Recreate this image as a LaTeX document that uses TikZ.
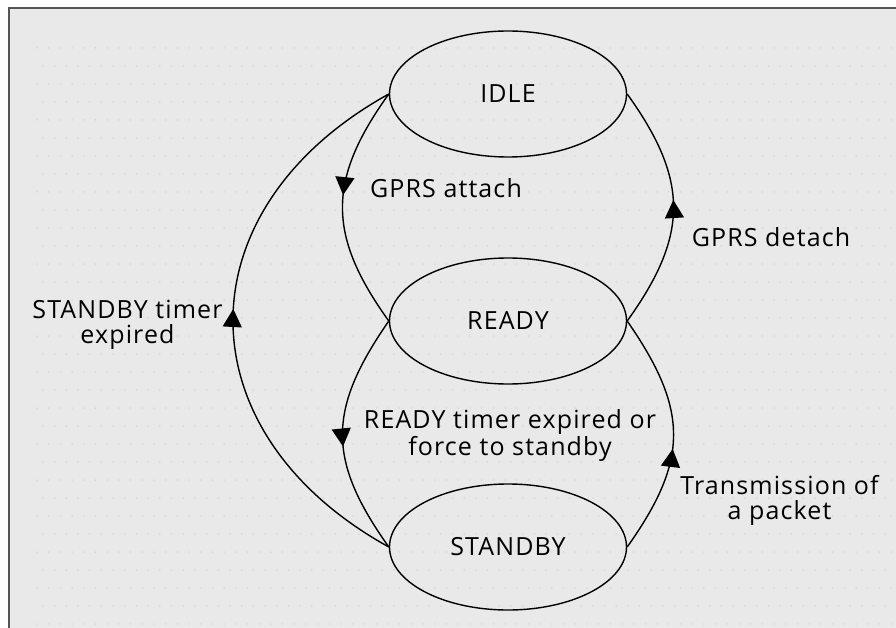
\documentclass[tikz,border=0pt]{standalone}
\usepackage{fontspec}
\setmainfont[LetterSpace=4.5]{Open Sans}
\usetikzlibrary{shapes.geometric,arrows.meta,decorations.markings}
\definecolor{bgc}{HTML}{E9E9E9}
\definecolor{dotc}{HTML}{D2D2D2}
\definecolor{framec}{HTML}{555555}
\begin{document}
\begin{tikzpicture}[x=1pt,y=-1pt,
  every node/.style={font=\fontsize{25}{25}\selectfont},
  state/.style={ellipse,draw,line width=1.4pt,minimum width=237pt,minimum height=126pt,inner sep=0pt},
  trans/.style={line width=1.4pt},
  midarrow/.style={postaction={decorate},decoration={markings,
      mark=at position #1 with {\arrow{Triangle[width=19pt,length=18pt]}}}},
  lbl/.style={align=center,inner sep=0pt}]
\useasboundingbox (0,0) rectangle (896,628);
\fill[white] (0,0) rectangle (896,628);
\fill[bgc] (9,8) rectangle (896,628);
% faint dotted backdrop
\foreach \r in {0,...,32} {
  \foreach \c in {0,...,75} {
    \fill[dotc] ({37+\c*11.7+mod(\r,2)*5.85},{48+\r*18}) circle (0.75pt);
  }
}
\draw[framec,line width=2pt] (9,628) -- (9,8) -- (896,8);

% states
\node[state] (idle) at (508,94) {IDLE};
\node[state] (ready) at (508,321) {READY};
\node[state] (standby) at (508,547) {STANDBY};

% transitions
\draw[trans,midarrow=0.45] (idle.west) .. controls (327,180) and (327,235) .. (ready.west);
\draw[trans,midarrow=0.53] (ready.east) .. controls (689,235) and (689,180) .. (idle.east);
\draw[trans,midarrow=0.55] (ready.west) .. controls (327,410) and (327,460) .. (standby.west);
\draw[trans,midarrow=0.44] (standby.east) .. controls (689,460) and (689,410) .. (ready.east);
\draw[trans,midarrow=0.52] (standby.west) .. controls (181,432) and (181,209) .. (idle.west);

% labels
\node[lbl] (lattach) at (446,188) {GPRS attach};
\node[lbl] (ldetach) at (771,237) {GPRS detach};
\node[lbl] (lsbtimer) at (127.5,324.5) {STANDBY timer\\expired};
\node[lbl] (lrdtimer) at (510,435.5) {READY timer expired or\\force to standby};
\node[lbl] (ltx) at (779.5,500) {Transmission of\\a packet};
\end{tikzpicture}
\end{document}
